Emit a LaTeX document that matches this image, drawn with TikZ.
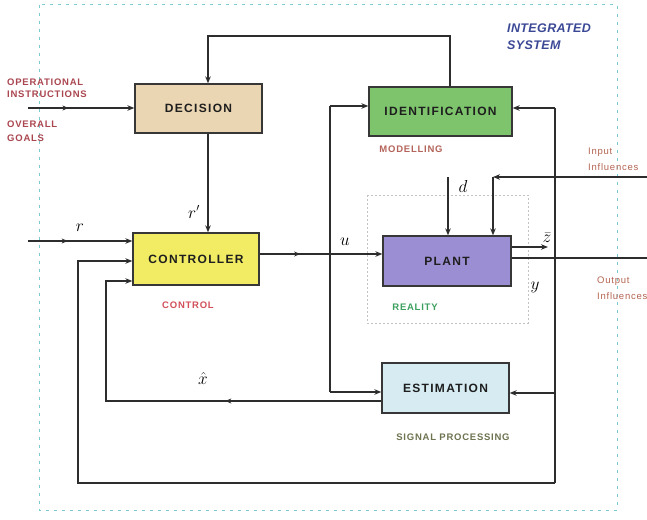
\documentclass[tikz,border=0pt]{standalone}
\usepackage{fontspec}
\setmainfont{Liberation Sans}
\newfontfamily\boxfont[LetterSpace=11]{Liberation Sans}
\newfontfamily\lblfont[LetterSpace=8]{Liberation Sans}
\newfontfamily\intfont[LetterSpace=3]{Liberation Sans}
\usetikzlibrary{arrows.meta,decorations.markings,calc}
\definecolor{decfill}{RGB}{234,214,178}
\definecolor{idfill}{RGB}{125,196,108}
\definecolor{ctrlfill}{RGB}{242,236,100}
\definecolor{plantfill}{RGB}{156,142,210}
\definecolor{estfill}{RGB}{214,236,242}
\definecolor{boxline}{RGB}{55,55,55}
\definecolor{wirec}{RGB}{45,45,45}
\definecolor{boxtext}{RGB}{30,30,30}
\definecolor{redlbl}{RGB}{170,70,80}
\definecolor{ctrllbl}{RGB}{210,80,90}
\definecolor{modlbl}{RGB}{180,100,90}
\definecolor{reallbl}{RGB}{60,160,95}
\definecolor{siglbl}{RGB}{110,115,80}
\definecolor{inflbl}{RGB}{180,100,80}
\definecolor{intlbl}{RGB}{58,72,150}
\definecolor{cyanb}{RGB}{120,205,208}
\definecolor{realb}{RGB}{195,195,195}
\begin{document}
\begin{tikzpicture}[x=1pt,y=-1pt,
  box/.style={draw=boxline, line width=1.3pt, inner sep=0pt,
    font=\boxfont\bfseries\fontsize{12}{14}\selectfont, text=boxtext},
  wire/.style={draw=wirec, line width=1.2pt},
  arr/.style={wire, -{Stealth[length=7pt,width=5.5pt]}},
  midarr/.style={postaction={decorate}, decoration={markings,
    mark=at position #1 with {\arrow{Stealth[length=6pt,width=5pt]}}}},
  lbl/.style={font=\lblfont\bfseries\fontsize{9.5}{11}\selectfont, inner sep=0pt},
  mathlbl/.style={font=\fontsize{16}{18}\selectfont, inner sep=0pt}
]
\useasboundingbox (0,0) rectangle (647,519);
\fill[white] (0,0) rectangle (647,519);

% outer integrated system border
\draw[cyanb, line width=1pt, dash pattern=on 3pt off 5pt] (39,5) rectangle (617,510);
% reality border
\draw[realb, line width=0.8pt, dash pattern=on 2pt off 2pt] (367,195) rectangle (528,323);

% boxes
\node[box, fill=decfill, minimum width=127pt, minimum height=49pt] (dec) at (198.5,108.5) {DECISION};
\node[box, fill=ctrlfill, minimum width=126pt, minimum height=52pt] (ctrl) at (196,259) {CONTROLLER};
\node[box, fill=idfill, minimum width=143pt, minimum height=49pt] (ident) at (440.5,111.5) {IDENTIFICATION};
\node[box, fill=plantfill, minimum width=128pt, minimum height=50pt] (plant) at (447,261) {PLANT};
\node[box, fill=estfill, minimum width=127pt, minimum height=50pt] (est) at (445.5,388) {ESTIMATION};

% captions
\node[lbl, text=modlbl] (modl) at (411,149) {MODELLING};
\node[lbl, text=ctrllbl] (ctrllab) at (188,305) {CONTROL};
\node[lbl, text=reallbl] (real) at (415,307) {REALITY};
\node[lbl, text=siglbl] (sig) at (453,437) {SIGNAL PROCESSING};
\node[lbl, text=redlbl, align=left, anchor=west, font=\lblfont\bfseries\fontsize{9.5}{12}\selectfont] (opi) at (7,88) {OPERATIONAL\\INSTRUCTIONS};
\node[lbl, text=redlbl, align=left, anchor=west, font=\lblfont\bfseries\fontsize{9.5}{14}\selectfont] (ovg) at (7,131) {OVERALL\\GOALS};
\node[lbl, text=inflbl, align=left, anchor=west, font=\lblfont\fontsize{9.5}{16}\selectfont] (inin) at (588,159) {Input\\Influences};
\node[lbl, text=inflbl, align=left, anchor=west, font=\lblfont\fontsize{9.5}{16}\selectfont] (outin) at (597,288) {Output\\Influences};
\node[inner sep=0pt, text=intlbl, align=left, anchor=west, font=\intfont\bfseries\itshape\fontsize{12.5}{17}\selectfont] (integ) at (507,37) {INTEGRATED\\SYSTEM};

% math labels
\node[mathlbl] (rl) at (80,228) {$r$};
\node[mathlbl] (rpl) at (194,212) {$r'$};
\node[mathlbl] (ul) at (345,242) {$u$};
\node[mathlbl] (dl) at (463,186) {$d$};
\node[mathlbl] (zl) at (547,238) {$\bar{z}$};
\node[mathlbl] (yl) at (535,287) {$y$};
\node[mathlbl] (xl) at (203,378) {$\hat{x}$};

% coordinates
\coordinate (tl) at (208,36);
\coordinate (tr) at (450,36);
\coordinate (opin) at (28,108);
\coordinate (rin) at (28,241);
\coordinate (ub) at (330,254);
\coordinate (ubt) at (330,106);
\coordinate (ubb) at (330,392);
\coordinate (din) at (448,177);
\coordinate (iin) at (647,177);
\coordinate (ic) at (493,177);
\coordinate (zout) at (548,247);
\coordinate (yout) at (647,258);
\coordinate (rvt) at (555,108);
\coordinate (rve) at (555,393);
\coordinate (rvb) at (555,483);
\coordinate (lbb) at (78,483);
\coordinate (lbt) at (78,261);
\coordinate (xb) at (106,401);
\coordinate (xt) at (106,281);

% connectors
\draw[arr] (ident.north -| tr) -- (tr) -- (tl) -- (dec.north -| tl);
\draw[arr, midarr=0.38] (opin) -- (dec.west |- opin);
\draw[arr] (dec.south -| tl) -- (ctrl.north -| tl);
\draw[arr, midarr=0.38] (rin) -- (ctrl.west |- rin);
\draw[arr, midarr=0.33] (ctrl.east |- ub) -- (plant.west |- ub);
\draw[wire] (ubt) -- (ubb);
\draw[arr] (ubt) -- (ident.west |- ubt);
\draw[arr] (ubb) -- (est.west |- ubb);
\draw[arr] (din) -- (plant.north -| din);
\draw[arr] (iin) -- (ic);
\draw[arr] (ic) -- (plant.north -| ic);
\draw[arr] (plant.east |- zout) -- (zout);
\draw[wire] (plant.east |- yout) -- (yout);
\draw[wire] (rvt) -- (rvb);
\draw[arr] (rvt) -- (ident.east |- rvt);
\draw[arr] (rve) -- (est.east |- rve);
\draw[arr] (rvb) -- (lbb) -- (lbt) -- (ctrl.west |- lbt);
\draw[arr, midarr=0.37] (est.west |- xb) -- (xb) -- (xt) -- (ctrl.west |- xt);
\end{tikzpicture}
\end{document}
